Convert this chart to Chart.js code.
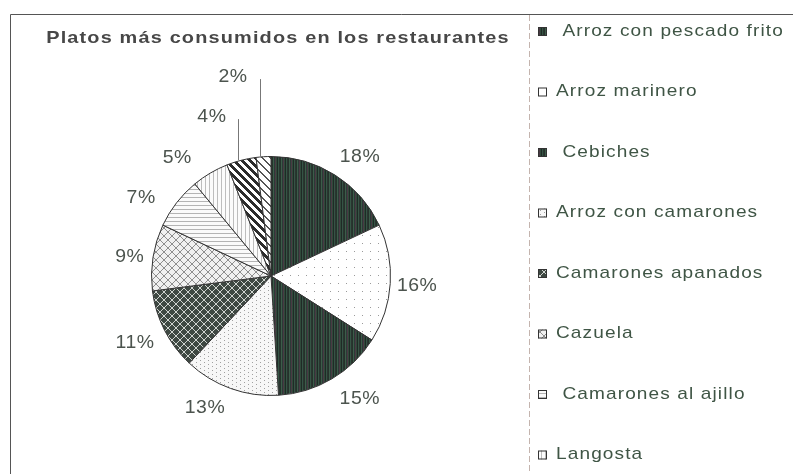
<!DOCTYPE html>
<html>
<head>
<meta charset="utf-8">
<script src="https://cdn.jsdelivr.net/npm/chart.js@4"></script>
<style>
  html, body { margin: 0; padding: 0; background: #fff; }
  #wrap { width: 793px; height: 474px; position: relative; }
</style>
</head>
<body>
<div id="wrap"><canvas id="platosChart" width="793" height="474"></canvas></div>
<script>
// Data (last two names are cut off in the original legend)
const titleText = 'Platos más consumidos en los restaurantes';
const platos = [
    ' Arroz con pescado frito', 'Arroz marinero', ' Cebiches', 'Arroz con camarones',
    'Camarones apanados', 'Cazuela', ' Camarones al ajillo', 'Langosta', 'Otros', 'Otros (2)'
];
const porcentajes = [18, 16, 15, 13, 11, 9, 7, 5, 4, 2];

// label placement: distance outside the pie edge, and a small turn (degrees)
const labelGap = [29, 27, 32, 28, 32, 23, 32, 31, 50, 83];
const labelTurn = [4.4, 0.3, -5.3, 6.8, 0.8, -1.4, -6.8, -7.9, -6, -7.2];
const shownInLegend = 8;

function makePattern(kind) {
    const c = document.createElement('canvas');
    const s = 8;
    c.width = s; c.height = s;
    const g = c.getContext('2d');
    const px = (x, y, col) => { g.fillStyle = col; g.fillRect(x, y, 1, 1); };

    if (kind === 'darkStripes') {
        const cols = ['#24332b', '#3d5c4a', '#2b3a36', '#4a3a44', '#2f4a3a', '#1f2a26', '#355545', '#2a3530'];
        for (let x = 0; x < s; x++) { g.fillStyle = cols[x]; g.fillRect(x, 0, 1, s); }
    } else if (kind === 'sparseDots') {
        g.fillStyle = '#ffffff'; g.fillRect(0, 0, s, s);
        px(2, 3, '#9a9a9a');
    } else if (kind === 'denseDots') {
        g.fillStyle = '#f7f7f7'; g.fillRect(0, 0, s, s);
        px(0, 0, '#a0a0a0'); px(4, 2, '#a0a0a0'); px(0, 4, '#a0a0a0'); px(4, 6, '#a0a0a0');
    } else if (kind === 'darkCross') {
        g.fillStyle = '#3e4842'; g.fillRect(0, 0, s, s);
        for (let i = 0; i < s; i++) { px(i, i, '#cfd3cf'); px(s - 1 - i, i, '#cfd3cf'); }
    } else if (kind === 'lightCross') {
        g.fillStyle = '#f0f0f0'; g.fillRect(0, 0, s, s);
        for (let i = 0; i < s; i++) { px(i, i, '#8e8e8e'); px(s - 1 - i, i, '#8e8e8e'); }
    } else if (kind === 'hLines') {
        g.fillStyle = '#fafafa'; g.fillRect(0, 0, s, s);
        g.fillStyle = '#b4b4b4'; g.fillRect(0, 1, s, 1); g.fillRect(0, 5, s, 1);
    } else if (kind === 'vLines') {
        g.fillStyle = '#fbfbfb'; g.fillRect(0, 0, s, s);
        g.fillStyle = '#bdbdbd'; g.fillRect(1, 0, 1, s); g.fillRect(5, 0, 1, s);
    } else if (kind === 'darkDiag') {
        g.fillStyle = '#ffffff'; g.fillRect(0, 0, s, s);
        for (let i = 0; i < s; i++) {
            px((i) % s, i, '#2c2c2c'); px((i + 1) % s, i, '#2c2c2c');
            px((i + 2) % s, i, '#2c2c2c'); px((i + 3) % s, i, '#2c2c2c');
        }
    } else if (kind === 'lightDiag') {
        g.fillStyle = '#ffffff'; g.fillRect(0, 0, s, s);
        for (let i = 0; i < s; i++) { px((i) % s, i, '#555'); px((i + 1) % s, i, '#555'); }
    }
    return g.createPattern(c, 'repeat');
}

const fills = [
    makePattern('darkStripes'), makePattern('sparseDots'), makePattern('darkStripes'),
    makePattern('denseDots'), makePattern('darkCross'), makePattern('lightCross'),
    makePattern('hLines'), makePattern('vLines'), makePattern('darkDiag'), makePattern('lightDiag')
];

// the scanned text in the original is a bit stretched sideways
function wideText(ctx, text, x, y, sx) {
    ctx.save();
    ctx.translate(x, y);
    ctx.scale(sx, 1);
    ctx.fillText(text, 0, 0);
    ctx.restore();
}

const decorPlugin = {
    id: 'decor',
    beforeDraw(chart) {
        const ctx = chart.ctx;
        ctx.save();
        // frame
        ctx.strokeStyle = '#555';
        ctx.lineWidth = 1;
        ctx.beginPath();
        ctx.moveTo(10.5, 474); ctx.lineTo(10.5, 14.5); ctx.lineTo(793, 14.5);
        ctx.stroke();
        ctx.strokeStyle = '#c4b4ae';
        ctx.setLineDash([6, 3]);
        ctx.beginPath();
        ctx.moveTo(529.5, 15); ctx.lineTo(529.5, 474);
        ctx.stroke();
        ctx.setLineDash([]);
        // title
        ctx.fillStyle = '#474747';
        ctx.font = 'bold 17px "Liberation Sans", Arial, sans-serif';
        ctx.letterSpacing = '1px';
        ctx.textAlign = 'center';
        ctx.textBaseline = 'middle';
        wideText(ctx, titleText, 278, 38, 1.17);
        ctx.restore();
    },
    afterDraw(chart) {
        const ctx = chart.ctx;
        const meta = chart.getDatasetMeta(0);
        ctx.save();
        ctx.font = '18px "Liberation Sans", Arial, sans-serif';
        ctx.letterSpacing = '0.5px';
        ctx.textBaseline = 'middle';
        ctx.textAlign = 'center';
        meta.data.forEach((arc, i) => {
            const p = arc.getProps(['x', 'y', 'startAngle', 'endAngle', 'outerRadius'], true);
            const mid = (p.startAngle + p.endAngle) / 2;
            const a = mid + labelTurn[i] * Math.PI / 180;
            const d = p.outerRadius + labelGap[i];
            const lx = p.x + Math.cos(a) * d;
            const ly = p.y + Math.sin(a) * d;
            ctx.fillStyle = '#4c544e';
            wideText(ctx, chart.data.datasets[0].data[i] + '%', lx, ly, 1.08);
            if (labelGap[i] > 45) {
                // leader line from the slice edge up to the label
                const ex = p.x + Math.cos(mid) * p.outerRadius - 3;
                const ey = p.y + Math.sin(mid) * p.outerRadius;
                ctx.strokeStyle = '#777';
                ctx.lineWidth = 1;
                ctx.beginPath();
                ctx.moveTo(Math.round(ex) + 0.5, ey);
                ctx.lineTo(Math.round(ex) + 0.5, ly + 2);
                ctx.stroke();
            }
        });

        // legend on the right (only the entries that fit in the picture)
        ctx.font = '17px "Liberation Sans", Arial, sans-serif';
        ctx.letterSpacing = '1px';
        ctx.textAlign = 'left';
        for (let i = 0; i < shownInLegend; i++) {
            const y = 31 + i * 60.5;
            ctx.fillStyle = fills[i];
            ctx.fillRect(538, y - 4, 9, 9);
            ctx.strokeStyle = '#333';
            ctx.strokeRect(538.5, y - 3.5, 8, 8);
            ctx.fillStyle = '#3f5545';
            wideText(ctx, chart.data.labels[i], 556, y, 1.12);
        }
        ctx.restore();
    }
};

new Chart(document.getElementById('platosChart'), {
    type: 'pie',
    data: {
        labels: platos,
        datasets: [{
            data: porcentajes,
            backgroundColor: fills,
            borderColor: '#333',
            borderWidth: 1
        }]
    },
    options: {
        responsive: false,
        animation: false,
        layout: { padding: { left: 151, right: 402, top: 156, bottom: 78 } },
        plugins: {
            legend: { display: false },
            tooltip: { enabled: false }
        }
    },
    plugins: [decorPlugin]
});
</script>
</body>
</html>
